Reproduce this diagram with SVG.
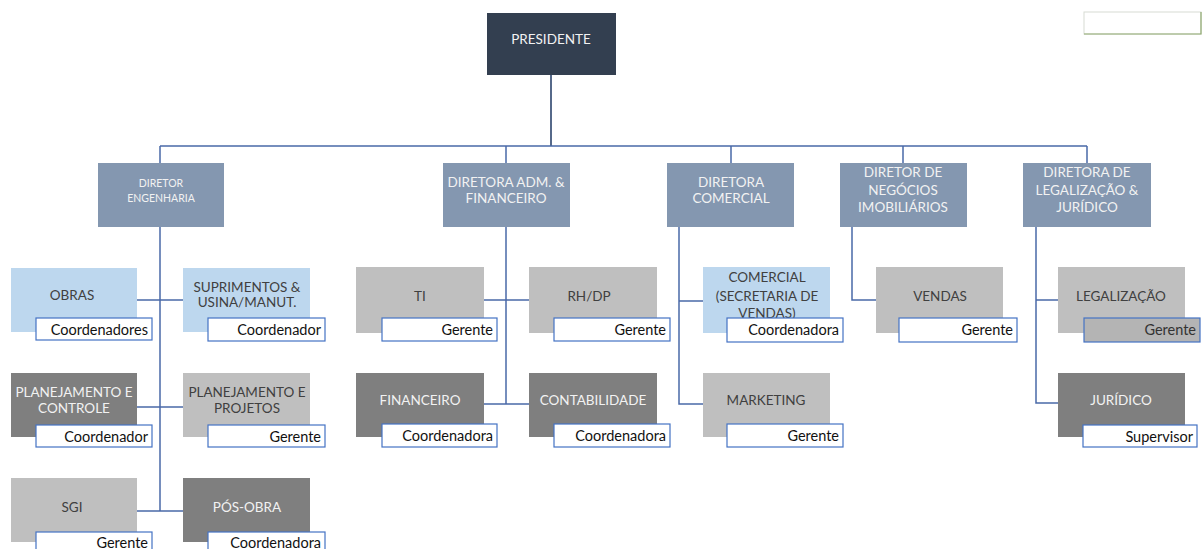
<svg xmlns="http://www.w3.org/2000/svg" width="1203" height="549" viewBox="0 0 1203 549">
<style>
text{font-family:Lato,"Liberation Sans",sans-serif}
.pres{fill:#333f50}
.dir{fill:#8497b0}
.lb{fill:#bdd7ee}
.lg{fill:#bfbfbf}
.dg{fill:#7f7f7f}
.tw{fill:#f2f2f2;font-size:13.5px;text-anchor:middle}
.td{fill:#404040;font-size:13.5px;text-anchor:middle}
.tsm{fill:#f2f2f2;font-size:10.5px;text-anchor:middle}
.lab{fill:#ffffff;stroke:#4472c4;stroke-width:1.2}
.labg{fill:#b4b4b4;stroke:#4472c4;stroke-width:1.2}
.lt{fill:#111;font-size:14.5px;text-anchor:end}
.con{fill:none;stroke:#4a69a8;stroke-width:1.5}
.top{fill:none;stroke:#56698a;stroke-width:2}
</style>
<rect x="0" y="0" width="1203" height="549" fill="#ffffff"/>
<g id="connectors">
<path class="top" d="M551 75V146"/>
<path class="con" d="M160 146H1087M160 146V163M506 146V163M731 146V163M903 146V163M1087 146V163"/>
<path class="con" d="M160 227V511M137 300H183M137 407H183M137 511H183"/>
<path class="con" d="M506 227V404M484 300H529M484 404H529"/>
<path class="con" d="M679 227V404H703M679 301H703"/>
<path class="con" d="M852 227V300H876"/>
<path class="con" d="M1036 227V403H1058M1036 300H1058"/>
</g>
<g id="note">
<rect x="1084" y="12" width="117" height="22" fill="#ffffff" stroke="#d8dcd4" stroke-width="1"/>
<path d="M1084 34H1201V12" fill="none" stroke="#8faa70" stroke-width="1.2"/>
</g>
<g id="presidente">
<rect class="pres" x="487" y="13" width="129" height="62"/>
<text class="tw" x="551" y="44">PRESIDENTE</text>
</g>
<g id="dir-engenharia">
<rect class="dir" x="98" y="163" width="126" height="64"/>
<text class="tsm" x="161" y="187">DIRETOR</text>
<text class="tsm" x="161" y="202">ENGENHARIA</text>
</g>
<g id="dir-adm">
<rect class="dir" x="443" y="163" width="127" height="64"/>
<text class="tw" x="506" y="187">DIRETORA ADM. &amp;</text>
<text class="tw" x="506" y="203">FINANCEIRO</text>
</g>
<g id="dir-comercial">
<rect class="dir" x="667" y="163" width="127" height="64"/>
<text class="tw" x="731" y="187">DIRETORA</text>
<text class="tw" x="731" y="203">COMERCIAL</text>
</g>
<g id="dir-negocios">
<rect class="dir" x="840" y="163" width="127" height="64"/>
<text class="tw" x="903" y="177">DIRETOR DE</text>
<text class="tw" x="903" y="195">NEGÓCIOS</text>
<text class="tw" x="903" y="212">IMOBILIÁRIOS</text>
</g>
<g id="dir-legal">
<rect class="dir" x="1023" y="163" width="128" height="64"/>
<text class="tw" x="1087" y="177">DIRETORA DE</text>
<text class="tw" x="1087" y="195">LEGALIZAÇÃO &amp;</text>
<text class="tw" x="1087" y="212">JURÍDICO</text>
</g>
<g id="obras">
<rect class="lb" x="11" y="268" width="126" height="64"/>
<text class="td" x="72" y="300">OBRAS</text>
<rect class="lab" x="36" y="318" width="116" height="22"/>
<text class="lt" x="148" y="335">Coordenadores</text>
</g>
<g id="suprimentos">
<rect class="lb" x="183" y="268" width="127" height="64"/>
<text class="td" x="247" y="292">SUPRIMENTOS &amp;</text>
<text class="td" x="247" y="307">USINA/MANUT.</text>
<rect class="lab" x="208" y="318" width="117" height="23"/>
<text class="lt" x="321" y="335">Coordenador</text>
</g>
<g id="plan-controle">
<rect class="dg" x="11" y="373" width="126" height="64"/>
<text class="tw" x="74" y="397">PLANEJAMENTO E</text>
<text class="tw" x="74" y="413">CONTROLE</text>
<rect class="lab" x="36" y="425" width="116" height="22"/>
<text class="lt" x="148" y="442">Coordenador</text>
</g>
<g id="plan-projetos">
<rect class="lg" x="183" y="373" width="127" height="64"/>
<text class="td" x="247" y="397">PLANEJAMENTO E</text>
<text class="td" x="247" y="413">PROJETOS</text>
<rect class="lab" x="208" y="425" width="117" height="22"/>
<text class="lt" x="321" y="442">Gerente</text>
</g>
<g id="sgi">
<rect class="lg" x="11" y="478" width="126" height="64"/>
<text class="td" x="72" y="512">SGI</text>
<rect class="lab" x="36" y="532" width="116" height="22"/>
<text class="lt" x="148" y="548">Gerente</text>
</g>
<g id="pos-obra">
<rect class="dg" x="183" y="478" width="127" height="64"/>
<text class="tw" x="247" y="512">PÓS-OBRA</text>
<rect class="lab" x="208" y="532" width="117" height="22"/>
<text class="lt" x="321" y="548">Coordenadora</text>
</g>
<g id="ti">
<rect class="lg" x="356" y="267" width="128" height="66"/>
<text class="td" x="420" y="301">TI</text>
<rect class="lab" x="382" y="318" width="115" height="23"/>
<text class="lt" x="493" y="335">Gerente</text>
</g>
<g id="rhdp">
<rect class="lg" x="529" y="267" width="128" height="66"/>
<text class="td" x="589" y="301">RH/DP</text>
<rect class="lab" x="554" y="318" width="116" height="23"/>
<text class="lt" x="666" y="335">Gerente</text>
</g>
<g id="financeiro">
<rect class="dg" x="356" y="373" width="128" height="64"/>
<text class="tw" x="420" y="405">FINANCEIRO</text>
<rect class="lab" x="382" y="424" width="115" height="23"/>
<text class="lt" x="493" y="441">Coordenadora</text>
</g>
<g id="contabilidade">
<rect class="dg" x="529" y="373" width="128" height="64"/>
<text class="tw" x="593" y="405">CONTABILIDADE</text>
<rect class="lab" x="554" y="424" width="116" height="23"/>
<text class="lt" x="666" y="441">Coordenadora</text>
</g>
<g id="comercial">
<rect class="lb" x="703" y="267" width="127" height="66"/>
<text class="td" x="767" y="282">COMERCIAL</text>
<text class="td" x="767" y="301">(SECRETARIA DE</text>
<text class="td" x="767" y="318">VENDAS)</text>
<rect class="lab" x="727" y="318" width="116" height="24"/>
<text class="lt" x="839" y="335">Coordenadora</text>
</g>
<g id="marketing">
<rect class="lg" x="703" y="373" width="127" height="64"/>
<text class="td" x="766" y="405">MARKETING</text>
<rect class="lab" x="727" y="424" width="116" height="23"/>
<text class="lt" x="839" y="441">Gerente</text>
</g>
<g id="vendas">
<rect class="lg" x="876" y="267" width="127" height="66"/>
<text class="td" x="940" y="301">VENDAS</text>
<rect class="lab" x="899" y="318" width="118" height="24"/>
<text class="lt" x="1013" y="335">Gerente</text>
</g>
<g id="legalizacao">
<rect class="lg" x="1058" y="267" width="127" height="66"/>
<text class="td" x="1121" y="301">LEGALIZAÇÃO</text>
<rect class="labg" x="1084" y="318" width="116" height="24"/>
<text class="lt" x="1196" y="335" style="fill:#333">Gerente</text>
</g>
<g id="juridico">
<rect class="dg" x="1058" y="373" width="127" height="64"/>
<text class="tw" x="1121" y="405">JURÍDICO</text>
<rect class="lab" x="1083" y="425" width="114" height="22"/>
<text class="lt" x="1193" y="442">Supervisor</text>
</g>
</svg>
